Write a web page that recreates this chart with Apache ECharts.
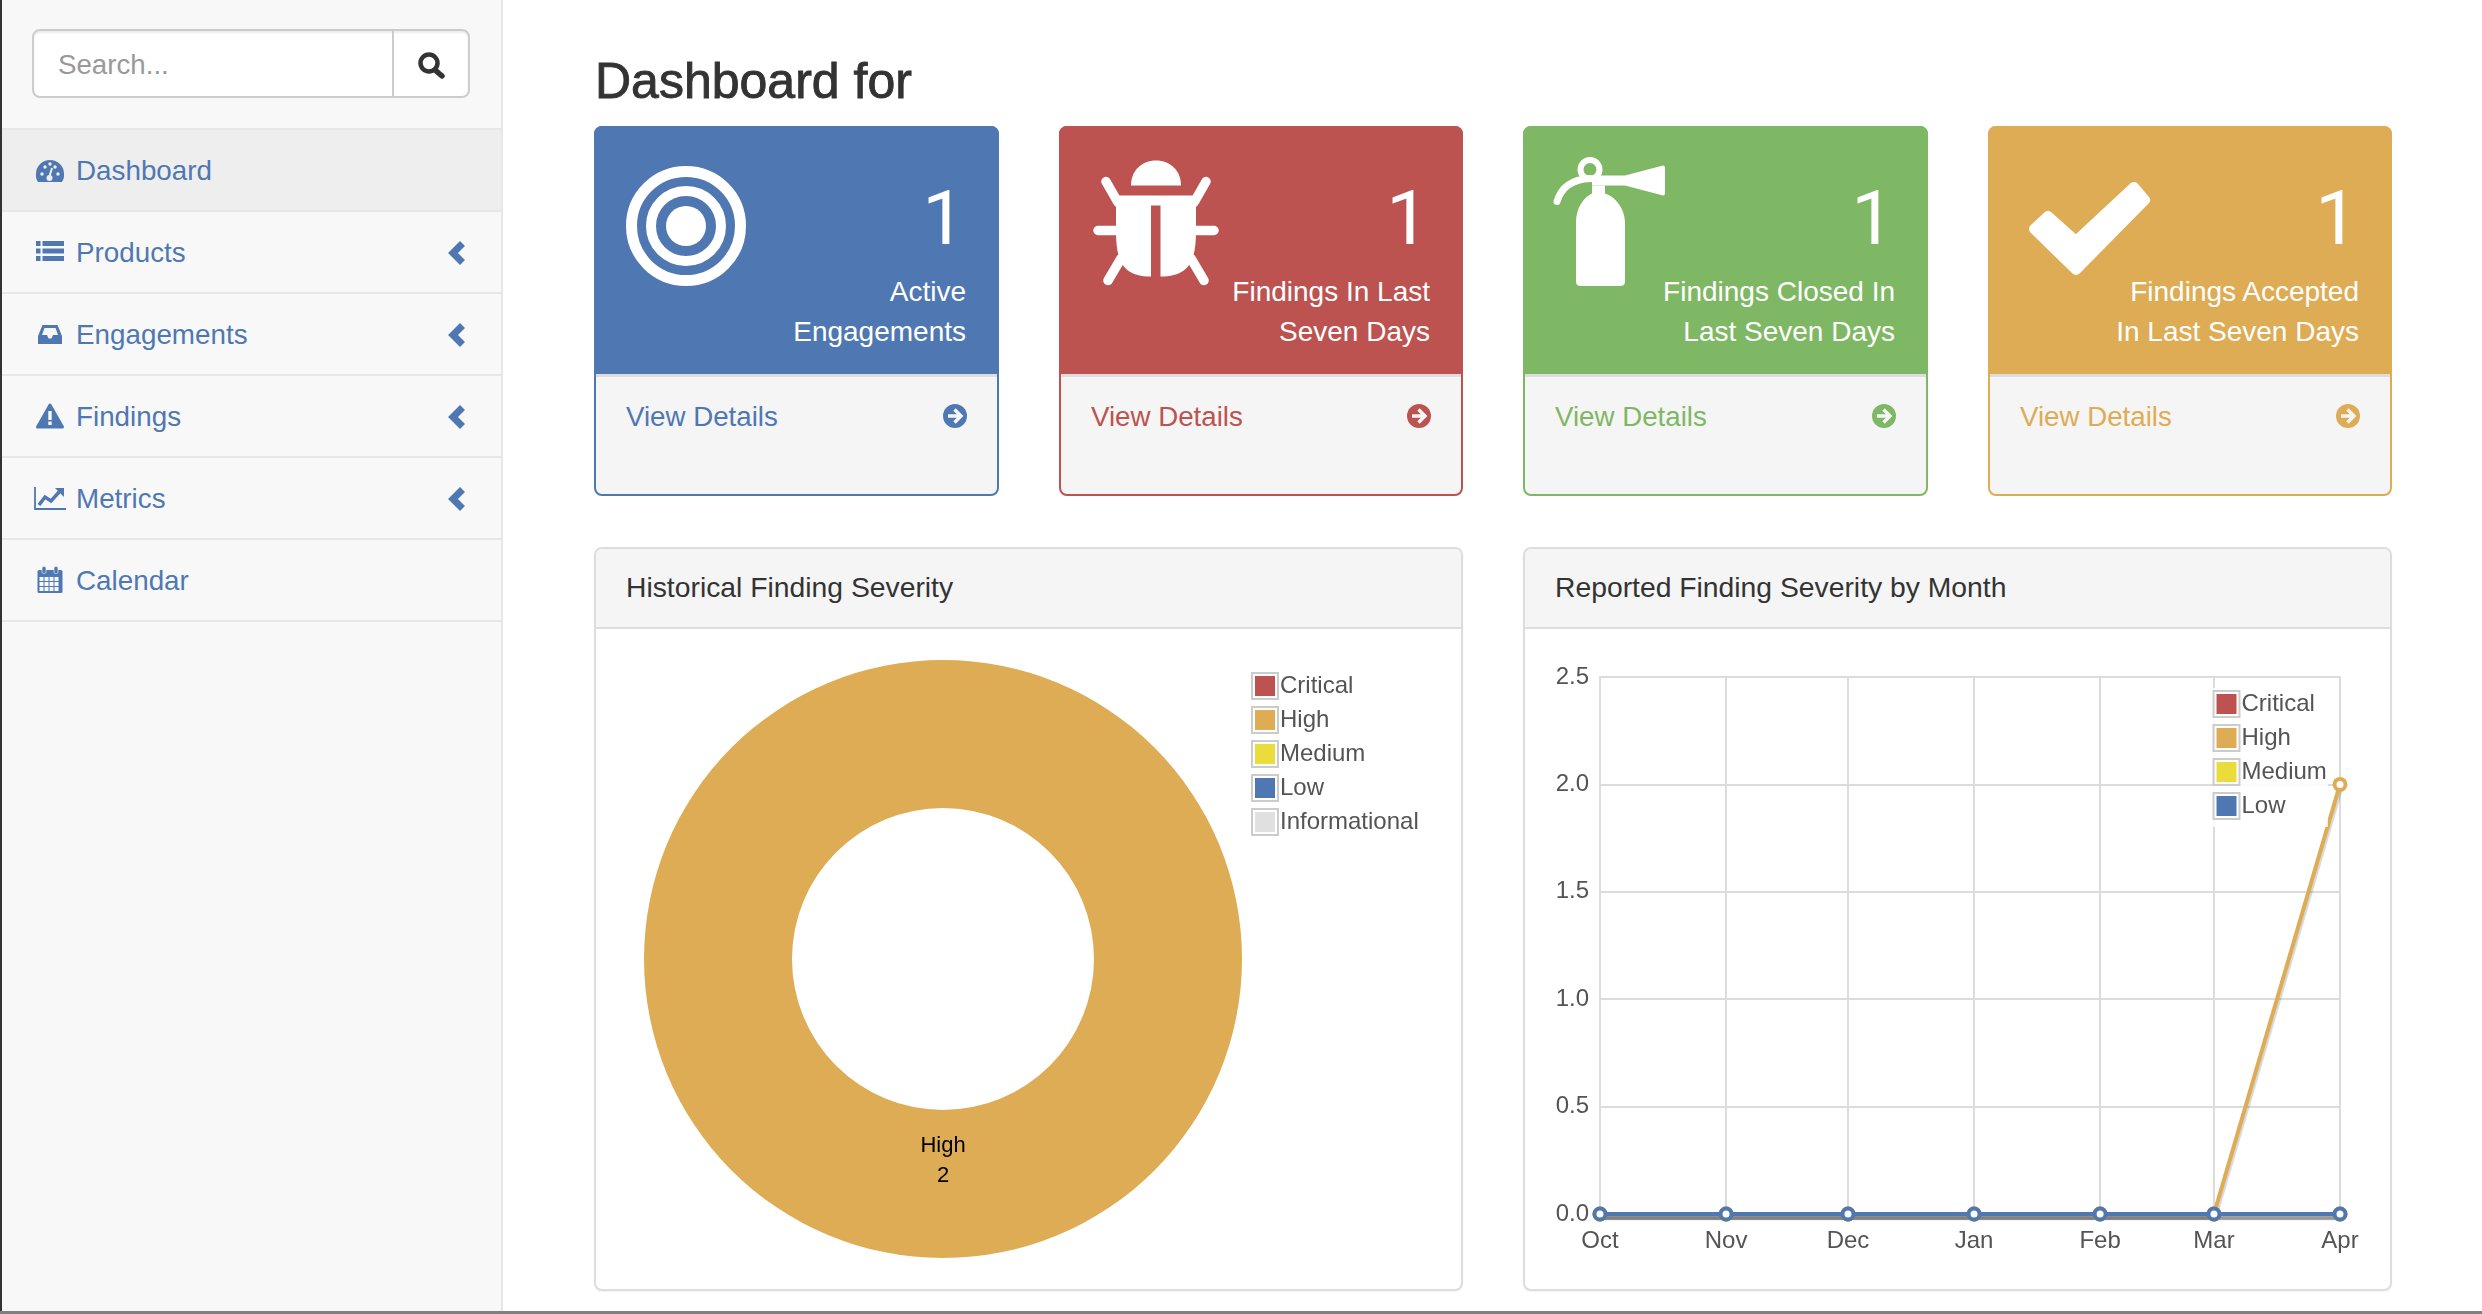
<!DOCTYPE html>
<html><head><meta charset="utf-8"><title>Dashboard</title>
<script src="https://cdn.jsdelivr.net/npm/echarts@6/dist/echarts.min.js"></script>
<style>
html,body{margin:0;padding:0;width:2482px;height:1314px;overflow:hidden;background:#fff;font-family:"Liberation Sans",Arial,sans-serif}
.b{position:absolute;box-sizing:border-box}
.t{position:absolute;white-space:nowrap;line-height:1.2}
svg{position:absolute;left:0;top:0}
</style></head><body>
<div id="page"></div>
<svg id="icons" width="2482" height="1314" viewBox="0 0 2482 1314" style="z-index:2"></svg>
<div id="pie" class="b" style="left:597px;top:631px;width:864px;height:658px;z-index:3"></div>
<div id="line" class="b" style="left:1525px;top:631px;width:864px;height:658px;z-index:3"></div>
<script>
// ---- chart data ----
const severityNames = ['Critical','High','Medium','Low','Informational'];
const severityColors = ['#bd5350','#deac55','#eadc3b','#4f78b3','#e0e0e0'];
const pieValues = [0,2,0,0,0];
const monthDates = ['2016-10-01T00:00:00Z','2016-11-01T00:00:00Z','2016-12-01T00:00:00Z','2017-01-01T00:00:00Z','2017-02-01T00:00:00Z','2017-03-01T00:00:00Z','2017-04-01T00:00:00Z'];
const monthLabels = ['Oct','Nov','Dec','Jan','Feb','Mar','Apr'];
const criticalByMonth = [0,0,0,0,0,0,0];
const highByMonth = [0,0,0,0,0,0,2];
const mediumByMonth = [0,0,0,0,0,0,0];
const lowByMonth = [0,0,0,0,0,0,0];
// ---- page text ----
const navItems = ['Dashboard','Products','Engagements','Findings','Metrics','Calendar'];
const cardTitles = [['Active','Engagements'],['Findings In Last','Seven Days'],['Findings Closed In','Last Seven Days'],['Findings Accepted','In Last Seven Days']];
const cardCounts = ['1','1','1','1'];
const cardColors = ['#4f78b3','#bd5350','#7fb865','#deac55'];
const panelTitles = ['Historical Finding Severity','Reported Finding Severity by Month'];

const page = document.getElementById('page');
function box(x,y,w,h,css){const d=document.createElement('div');d.className='b';d.style.cssText=`left:${x}px;top:${y}px;width:${w}px;height:${h}px;${css||''}`;page.appendChild(d);return d;}
function text(x,base,str,size,color,align,css){const d=document.createElement('div');d.className='t';d.textContent=str;
  const top=base-0.9465*size;
  let s=`top:${top}px;font-size:${size}px;color:${color};z-index:4;${css?css+';':''}`;
  s+= align==='right' ? `right:${2482-x}px;` : `left:${x}px;`;
  d.style.cssText=s;page.appendChild(d);}
// sidebar
box(0,0,503,1314,'background:#f8f8f8;border-right:2px solid #e7e7e7');
box(0,0,2,1314,'background:#333;z-index:5');
box(2,129,499,82,'background:#eeeeee');
[129,211,293,375,457,539,621].forEach(y=>box(2,y-1,499,2,'background:#e7e7e7'));
box(32,29,438,69,'background:#fff;border:2px solid #ccc;border-radius:8px;box-shadow:inset 0 2px 2px rgba(0,0,0,.08)');
box(392,30,2,67,'background:#ccc');
text(58,74,'Search...',27.7,'#999');
const navBase=[180,262,344,426,508,590];
navItems.forEach((n,i)=>text(76,navBase[i],n,27.8,'#4f78b3'));
// heading
text(595,98,'Dashboard for',50,'#333','left','-webkit-text-stroke:.9px #333');
// cards
const cardX=[594,1059,1523,1988], cardW=[405,404,405,404];
cardX.forEach((x,i)=>{const c=cardColors[i],w=cardW[i],r=x+w;
  box(x,126,w,370,`background:#f5f5f5;border:2px solid ${c};border-radius:8px`);
  box(x,126,w,248,`background:${c};border-radius:8px 8px 0 0`);
  box(x+2,374,w-4,3,'background:#ddd');
  text(r-34,245,cardCounts[i],76,'#fff','right','font-family:Roboto;font-weight:400');
  text(r-33,302,cardTitles[i][0],28,'#fff','right');
  text(r-33,342,cardTitles[i][1],28,'#fff','right');
  text(x+32,426,'View Details',27.7,c);
});
// panels
[[594,869],[1523,869]].forEach((p,i)=>{
  box(p[0],547,p[1],744,'background:#fff;border:2px solid #ddd;border-radius:8px;box-shadow:0 1px 2px rgba(0,0,0,.05)');
  box(p[0]+2,549,p[1]-4,80,'background:#f5f5f5;border-bottom:2px solid #ddd;border-radius:6px 6px 0 0');
  text(p[0]+32,598,panelTitles[i],28.3,'#333');
});
box(0,1311,2482,3,'background:#808080;z-index:6');

// icons
let s='';
const B='#4f78b3';
s+=`<circle cx="429" cy="63" r="8.5" fill="none" stroke="#333" stroke-width="4.5"/><path d="M435 70 L442 76" stroke="#333" stroke-width="5.5" stroke-linecap="round"/>`;
// gauge
s+=`<path d="M38 182 C35.5 178 36 176 36 174 A14 14 0 0 1 64 174 C64 176 64.500 178 62 182 Z" fill="${B}"/>`;
[[42,174],[45,167],[50,164],[55,167],[58,174]].forEach(p=>s+=`<circle cx="${p[0]}" cy="${p[1]}" r="1.7" fill="#eee"/>`);
s+=`<path d="M49 178 L52 168" stroke="#eee" stroke-width="2"/><circle cx="49.500" cy="178" r="3" fill="#eee"/>`;
// list
[241,248.5,256].forEach(y=>s+=`<rect x="36" y="${y}" width="4.500" height="5" fill="${B}"/><rect x="42.500" y="${y}" width="21.500" height="5" fill="${B}"/>`);
// inbox
s+=`<path d="M42.500 325 H57.500 L62 336 V344 H38 V336 Z" fill="${B}"/><path d="M44.500 328 H55.500 L58 335 H53 L51.500 338.500 H48.500 L47 335 H42 Z" fill="#f8f8f8"/>`;
// warning
s+=`<path d="M50 405 L62.500 427 H37.500 Z" fill="${B}" stroke="${B}" stroke-width="3" stroke-linejoin="round"/><rect x="48.300" y="411" width="3.400" height="9" fill="#f8f8f8"/><rect x="48.300" y="421.500" width="3.400" height="3.500" fill="#f8f8f8"/>`;
// metrics
s+=`<path d="M35 487 V509 H66" fill="none" stroke="${B}" stroke-width="1.800"/><path d="M39 505 L45 497 L51 501 L60 491" fill="none" stroke="${B}" stroke-width="3.500"/><path d="M55 488 H64 V497 Z" fill="${B}"/>`;
// calendar
s+=`<rect x="37.500" y="570" width="25" height="23" rx="1.500" fill="${B}"/><rect x="42" y="566.500" width="4" height="7" rx="1.500" fill="${B}" stroke="#f8f8f8" stroke-width=".6"/><rect x="54" y="566.500" width="4" height="7" rx="1.500" fill="${B}" stroke="#f8f8f8" stroke-width=".6"/>`;
[[39.500,577],[44.500,577],[49.500,577],[54.500,577]].forEach(p=>[0,5,10].forEach(d=>s+=`<rect x="${p[0]}" y="${p[1]+d}" width="4" height="4" fill="#f8f8f8"/>`));
// chevrons
[253,335,417,499].forEach(y=>s+=`<path d="M462.500 ${y-9.500} L453 ${y} L462.500 ${y+9.500}" fill="none" stroke="${B}" stroke-width="7" stroke-linejoin="miter"/>`);
// details arrows
cardX.forEach((x,i)=>{const cx=x+cardW[i]-44, c=cardColors[i];
  s+=`<circle cx="${cx}" cy="416" r="12" fill="${c}"/><path d="M${cx-7} 416 H${cx+5} M${cx-0.500} 409.500 L${cx+6} 416 L${cx-0.500} 422.500" fill="none" stroke="#f5f5f5" stroke-width="3.400"/>`;});
// target
s+=`<g fill="none" stroke="#fff"><circle cx="686" cy="226" r="54.500" stroke-width="11"/><circle cx="686" cy="226" r="35" stroke-width="10"/></g><circle cx="686" cy="226" r="20" fill="#fff"/>`;
// bug
s+=`<g transform="translate(0,-1.500)"><g fill="#fff" stroke="#fff"><path d="M1131 187 C1131 172 1142 162 1156 162 C1170 162 1181 172 1181 187 Z" stroke="none"/>
<path d="M1116 197 H1196 V232 C1196 262 1190 278 1160.500 278 V207 H1151 V278 C1122 278 1116 262 1116 232 Z" stroke="none"/>
<g stroke-width="9.500" stroke-linecap="round" fill="none"><path d="M1118 204 L1106 183 M1194 204 L1206 183 M1116 232 H1098 M1196 232 H1214 M1121 260 L1108 282 M1191 260 L1204 282"/></g></g></g>`;
// extinguisher
s+=`<g transform="translate(0,-1.500)"><g fill="#fff"><path d="M1576 283 V224 C1576 208 1585 198 1592 195 V187 H1605 V195 C1615 198 1625 210 1625 224 V283 Q1625 287.500 1620 287.500 H1581 Q1576 287.500 1576 283 Z"/>
<path d="M1592 177 H1625 L1663 167 Q1665 167 1665 169 V195 Q1665 197 1663 197 L1625 187 H1592 Z"/>
<path d="M1557 203 C1560 193 1568 181 1590 180" fill="none" stroke="#fff" stroke-width="7" stroke-linecap="round"/>
<ellipse cx="1590" cy="171" rx="9.500" ry="9.500" fill="none" stroke="#fff" stroke-width="6"/></g></g>`;
// check
s+=`<path d="M2048 216 L2034 229 L2076 270 L2145 200 L2134 187 L2076 241 Z" fill="#fff" stroke="#fff" stroke-width="10" stroke-linejoin="round"/>`;
document.getElementById('icons').innerHTML=s;

// ---- pie chart ----
const FONT='"Liberation Sans",Arial,sans-serif';
const frame=(x,y)=>({type:'rect',shape:{x:x,y:y,width:26,height:26},style:{fill:'none',stroke:'#cccccc',lineWidth:2},z:10,silent:true});
const pie=echarts.init(document.getElementById('pie'));
pie.setOption({
  animation:false,
  color:severityColors,
  textStyle:{fontFamily:FONT},
  legend:{orient:'vertical',left:658,top:43,padding:0,itemWidth:20,itemHeight:20,itemGap:10,icon:'rect',selectedMode:false,
    textStyle:{fontSize:24,color:'#545454',fontFamily:FONT},
    data:severityNames},
  graphic:severityNames.map((n,i)=>frame(655,42+34*i)),
  series:[{type:'pie',center:[346,328],radius:[151,299],startAngle:90,silent:true,
    label:{position:'inside',color:'#000',fontSize:22,lineHeight:30,fontFamily:FONT,
      formatter:p=>p.value>0?p.name+'\n'+p.value:''},
    labelLine:{show:false},
    labelLayout:{dy:-26},
    data:severityNames.map((n,i)=>({name:n,value:pieValues[i]}))}]
});

// ---- line chart ----
const lineNames=severityNames.slice(0,4);
const lineSeriesValues=[criticalByMonth,highByMonth,mediumByMonth,lowByMonth];
const monthTimes=monthDates.map(d=>Date.parse(d));
const line=echarts.init(document.getElementById('line'));
line.setOption({
  animation:false,
  textStyle:{fontFamily:FONT},
  grid:{show:true,left:75,right:49,top:46,bottom:75,borderColor:'#e4e4e4',borderWidth:2,backgroundColor:'transparent'},
  xAxis:{type:'value',min:monthTimes[0],max:monthTimes[6],scale:true,
    axisLine:{show:false},
    axisTick:{show:false,customValues:monthTimes},
    splitLine:{show:true,lineStyle:{color:'#dcdcdc',width:2}},
    axisLabel:{customValues:monthTimes,hideOverlap:false,showMinLabel:true,showMaxLabel:true,margin:15,fontSize:24,color:'#545454',fontFamily:FONT,
      formatter:v=>monthLabels[monthTimes.indexOf(v)]}},
  yAxis:{type:'value',min:0,max:2.5,interval:0.5,
    axisLine:{show:false},axisTick:{show:false},
    splitLine:{lineStyle:{color:'#dcdcdc',width:2}},
    axisLabel:{margin:11,fontSize:24,color:'#545454',fontFamily:FONT,formatter:v=>v.toFixed(1)}},
  legend:{orient:'vertical',left:688,top:57,padding:[4,1,9,3.5],backgroundColor:'rgba(255,255,255,0.85)',itemWidth:20,itemHeight:20,itemGap:10,icon:'rect',selectedMode:false,
    textStyle:{fontSize:24,color:'#545454',fontFamily:FONT},
    data:lineNames.map((n,i)=>({name:n,itemStyle:{color:severityColors[i],borderWidth:0,shadowBlur:0,shadowOffsetY:0,shadowColor:'transparent'}}))},
  graphic:lineNames.map((n,i)=>frame(688.5,60+34*i)),
  series:lineNames.map((n,i)=>({type:'line',name:n,silent:true,clip:false,z:2+i,
    symbol:'circle',symbolSize:11,showSymbol:true,
    lineStyle:{color:severityColors[i],width:4,shadowColor:'rgba(0,0,0,0.16)',shadowOffsetY:4,shadowOffsetX:1,shadowBlur:1},
    itemStyle:{color:'#fff',borderColor:severityColors[i],borderWidth:4},
    data:lineSeriesValues[i].map((v,j)=>[monthTimes[j],v])}))
});
</script>
</body></html>
